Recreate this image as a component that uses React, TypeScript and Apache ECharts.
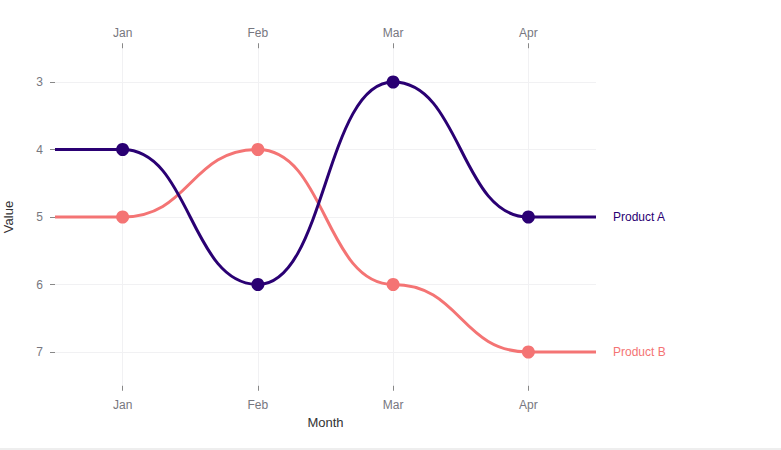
import React, { useEffect, useRef } from "react";
import * as echarts from "echarts";

const months = ["Jan", "Feb", "Mar", "Apr"];
const productA = [4, 6, 3, 5];
const productB = [5, 4, 6, 7];
const yTicks = [3, 4, 5, 6, 7];

const FONT = "Liberation Sans, Arial, sans-serif";
const AXIS_TEXT = "#777780";

function bumpSeries(name: string, values: number[], color: string) {
  const data = values.map((v, i) => [i, v]);
  return [
    {
      type: "custom",
      name,
      data,
      encode: { x: 0, y: 1 },
      z: 3,
      renderItem: (params: any, api: any) => {
        const i = params.dataIndex;
        const band = api.size([1, 0])[0];
        const children: any[] = [];
        if (i === 0) {
          const pts = values.map((v, k) => api.coord([k, v]));
          let d = `M${pts[0][0] - band / 2},${pts[0][1]} L${pts[0][0]},${pts[0][1]}`;
          for (let k = 0; k < pts.length - 1; k++) {
            const p = pts[k];
            const q = pts[k + 1];
            const mx = (p[0] + q[0]) / 2;
            d += ` C${mx},${p[1]} ${mx},${q[1]} ${q[0]},${q[1]}`;
          }
          const last = pts[pts.length - 1];
          d += ` L${last[0] + band / 2},${last[1]}`;
          children.push({
            type: "path",
            shape: { pathData: d },
            style: { stroke: color, lineWidth: 3, fill: null },
          });
        }
        if (i === values.length - 1) {
          const p = api.coord([i, values[i]]);
          children.push({
            type: "text",
            x: p[0] + band / 2 + 17,
            y: p[1],
            style: {
              text: name,
              fill: color,
              font: `12px ${FONT}`,
              verticalAlign: "middle",
              align: "left",
            },
          });
        }
        return { type: "group", children };
      },
    },
    {
      type: "scatter",
      name: name + " points",
      data,
      symbol: "circle",
      symbolSize: 13,
      itemStyle: { color, opacity: 1 },
      z: 4,
    },
  ];
}

export default function App() {
  const ref = useRef<HTMLDivElement>(null);
  useEffect(() => {
    document.body.style.margin = "0";
    const chart = echarts.init(ref.current!, null, { renderer: "svg" });
    const catAxisBase = {
      type: "category",
      data: months,
      boundaryGap: true,
      axisLine: { show: false },
      axisTick: { show: true, alignWithLabel: true, length: 5, lineStyle: { color: "#888" } },
      axisLabel: { color: AXIS_TEXT, fontSize: 12, fontFamily: FONT },
    };
    chart.setOption({
      animation: false,
      textStyle: { fontFamily: FONT },
      grid: { left: 55, right: 185, top: 48.25, bottom: 64.25, containLabel: false, outerBoundsMode: "none" },
      xAxis: [
        {
          ...catAxisBase,
          position: "bottom",
          name: "Month",
          nameLocation: "middle",
          nameGap: 30,
          nameTextStyle: { color: "#333", fontSize: 13, fontFamily: FONT },
          axisLabel: { ...catAxisBase.axisLabel, margin: 13 },
          splitLine: { show: true, alignWithLabel: true, lineStyle: { color: "#f1f1f3", width: 1 } },
        },
        {
          ...catAxisBase,
          position: "top",
          axisLabel: { ...catAxisBase.axisLabel, margin: 9 },
          splitLine: { show: false },
        },
      ],
      yAxis: {
        type: "value",
        inverse: true,
        min: 2.5,
        max: 7.5,
        axisLine: { show: false },
        axisTick: { show: true, length: 5, customValues: yTicks, lineStyle: { color: "#888" } },
        axisLabel: {
          color: AXIS_TEXT,
          fontSize: 12,
          fontFamily: FONT,
          margin: 12,
          customValues: yTicks,
        },
        splitLine: { show: false },
        name: "Value",
        nameLocation: "middle",
        nameGap: 40,
        nameRotate: 90,
        nameTextStyle: { color: "#333", fontSize: 13, fontFamily: FONT },
      },
      series: [
        {
          type: "line",
          data: [],
          z: 0,
          zlevel: 0,
          markLine: {
            silent: true,
            symbol: "none",
            z: 0,
            label: { show: false },
            lineStyle: { color: "#f1f1f3", type: "solid", width: 1 },
            data: yTicks.map((v) => ({ yAxis: v })),
          },
        },
        ...bumpSeries("Product B", productB, "#f47474"),
        ...bumpSeries("Product A", productA, "#2a0073"),
      ],
      graphic: [
        { type: "rect", left: 0, bottom: 0, shape: { width: 781, height: 2 }, style: { fill: "#eeeeee" } },
      ],
    });
    return () => chart.dispose();
  }, []);
  return <div ref={ref} style={{ width: 781, height: 450, position: "absolute", left: 0, top: 0 }} />;
}
